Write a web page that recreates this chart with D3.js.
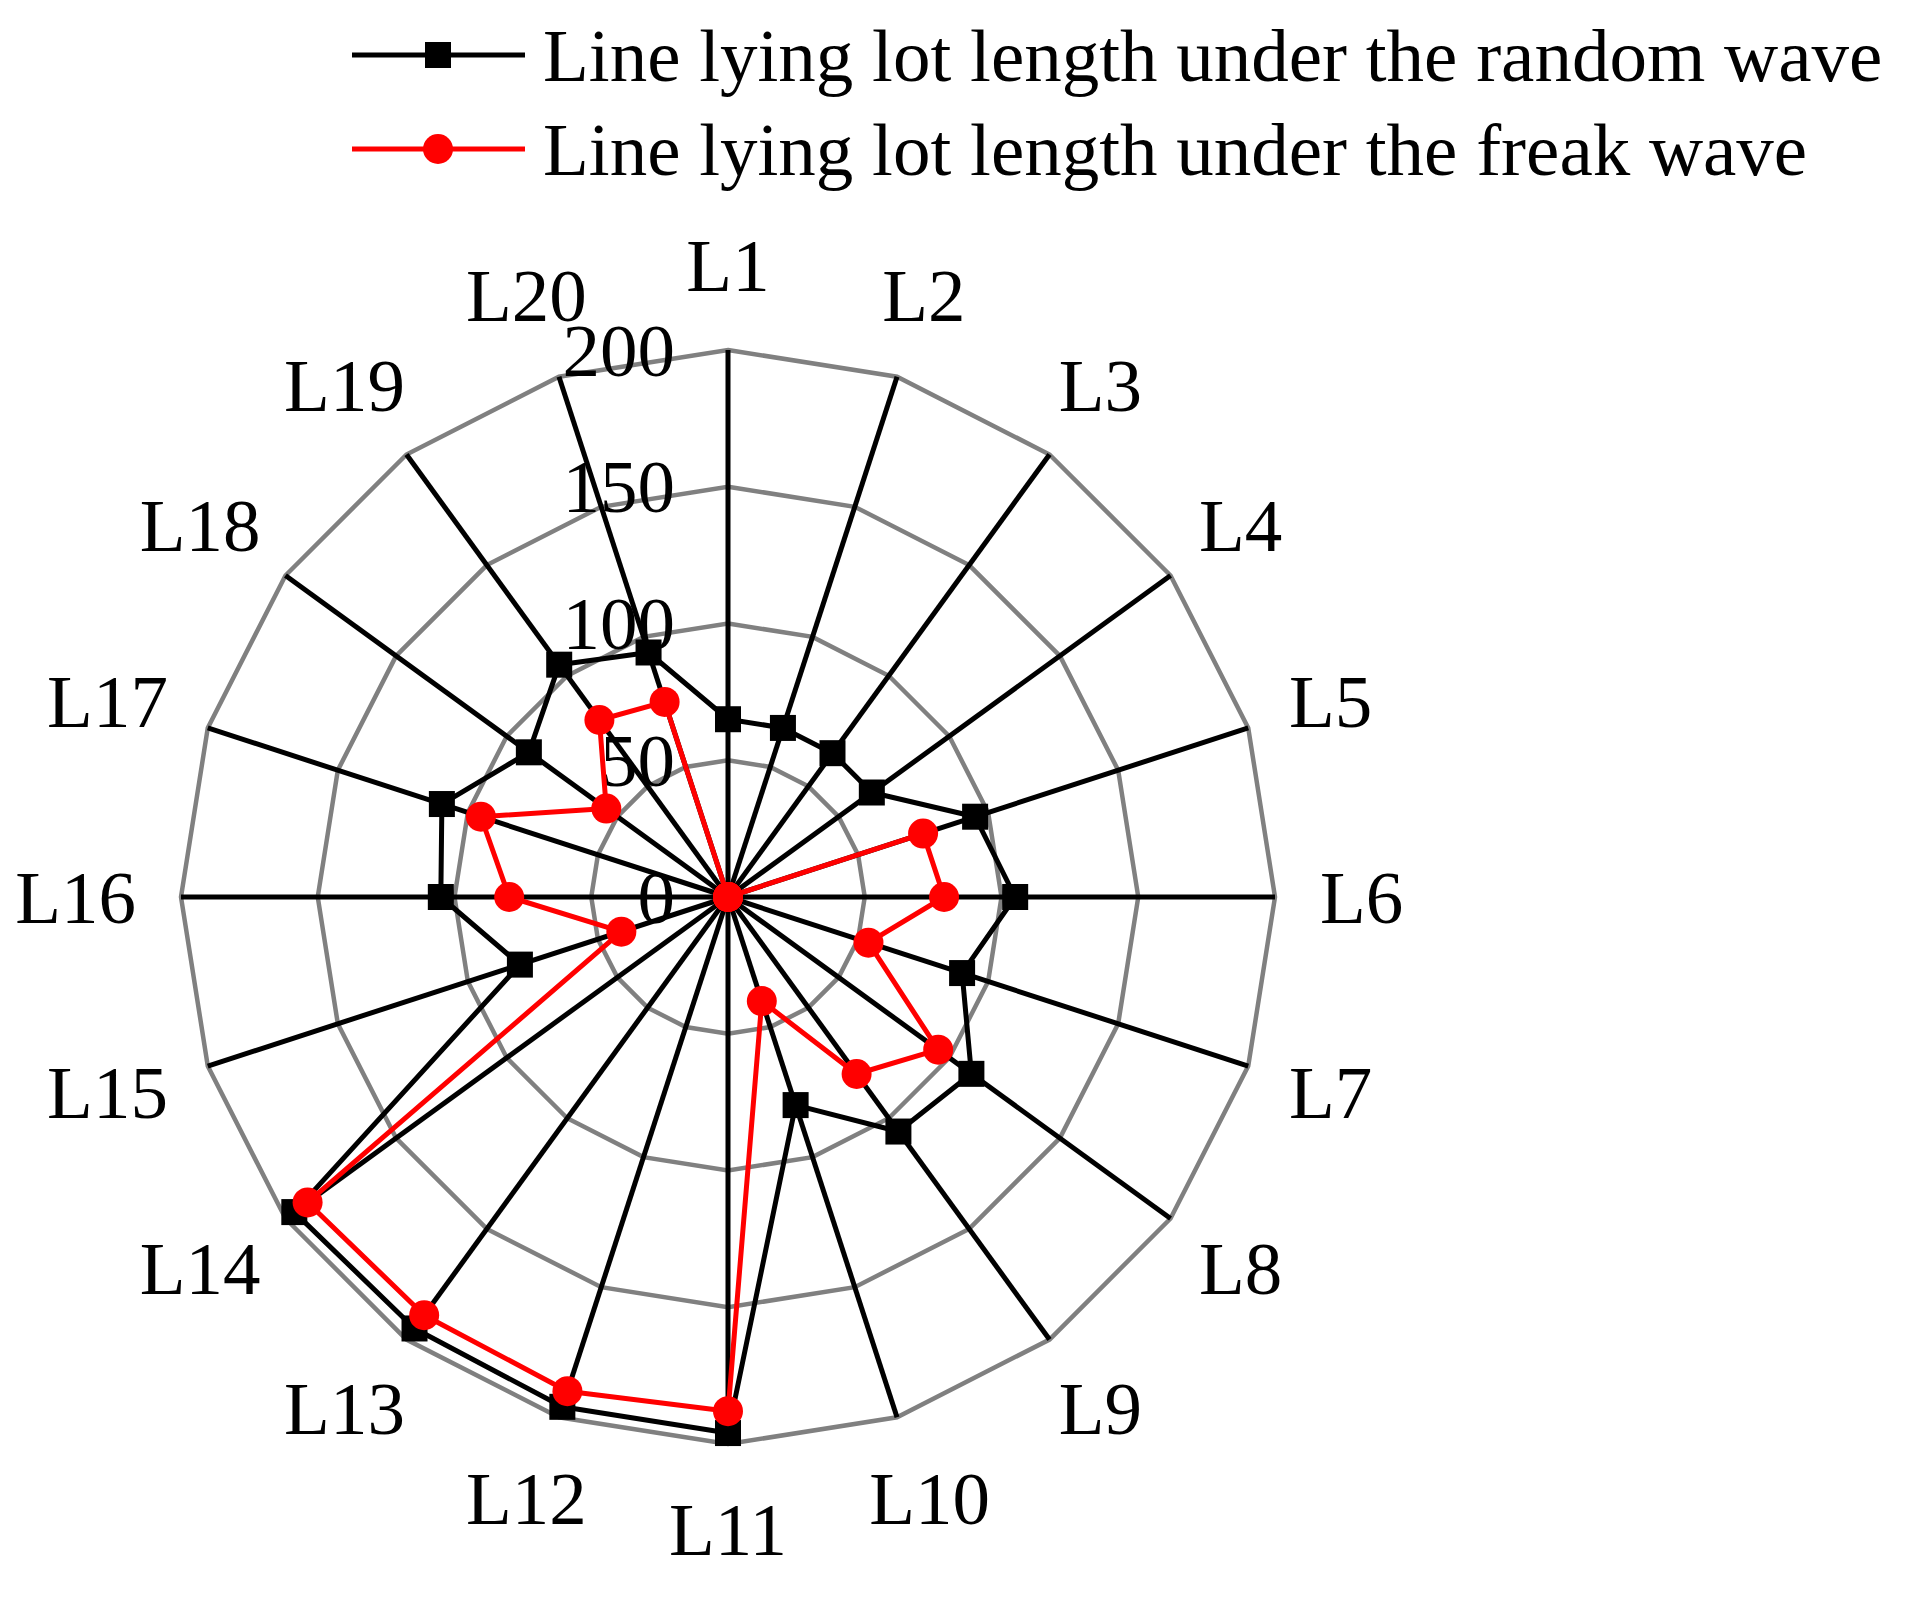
<!DOCTYPE html>
<html>
<head>
<meta charset="utf-8">
<script src="https://cdn.jsdelivr.net/npm/d3@7"></script>
<style>
  body { margin: 0; background: #fff; }
  text { font-family: "Liberation Serif", "Times New Roman", serif; fill: #000; }
</style>
</head>
<body>
<div id="chart"></div>
<script>
//data
const categories = ["L1", "L2", "L3", "L4", "L5", "L6", "L7", "L8", "L9", "L10",
  "L11", "L12", "L13", "L14", "L15", "L16", "L17", "L18", "L19", "L20"];
const randomWave = [65, 65, 65, 65, 95, 105, 90, 110, 106, 80,
  196, 196, 195, 196, 80, 105, 110, 90, 105, 94];
const freakWave = [0, 0, 0, 0, 75, 79, 54, 95, 80, 40,
  188, 190, 189, 190, 41, 80, 95, 55, 80, 75];
const ticks = [0, 50, 100, 150, 200];
const seriesNames = ["Line lying lot length under the random wave",
  "Line lying lot length under the freak wave"];

//size
const width = 1914;
const height = 1599;
const cx = 728;
const cy = 897;
const R = 547;
const fontSize = 75;

const r = d3.scaleLinear().domain([0, 200]).range([0, R]);
const angle = d3.scalePoint().domain(categories).range([0, 2 * Math.PI * 19 / 20]);

//polar -> xy
const px = (cat, v) => cx + r(v) * Math.sin(angle(cat));
const py = (cat, v) => cy - r(v) * Math.cos(angle(cat));

const svg = d3.select("#chart").append("svg")
  .attr("width", width)
  .attr("height", height);

svg.append("rect").attr("width", width).attr("height", height).attr("fill", "#fff");

//grid rings
const ring = d3.line().x((d) => d[0]).y((d) => d[1]);
svg.append("g")
  .selectAll("path")
  .data(ticks.filter((t) => t > 0))
  .join("path")
  .attr("d", (t) => ring(categories.map((c) => [px(c, t), py(c, t)])) + "Z")
  .attr("fill", "none")
  .attr("stroke", "#808080")
  .attr("stroke-width", 4.5);

//spokes
svg.append("g")
  .selectAll("line")
  .data(categories)
  .join("line")
  .attr("x1", cx).attr("y1", cy)
  .attr("x2", (c) => px(c, 200))
  .attr("y2", (c) => py(c, 200))
  .attr("stroke", "#000")
  .attr("stroke-width", 5);

//tick labels
svg.append("g")
  .selectAll("text")
  .data(ticks)
  .join("text")
  .attr("x", cx - 53)
  .attr("y", (t) => cy - r(t))
  .attr("text-anchor", "end")
  .attr("dominant-baseline", "central")
  .attr("font-size", fontSize)
  .text((t) => t);

//category labels
const gap = 45;
const halfH = 36;
svg.append("g")
  .selectAll("text")
  .data(categories)
  .join("text")
  .attr("font-size", fontSize)
  .attr("text-anchor", "middle")
  .attr("dominant-baseline", "central")
  .text((c) => c)
  .each(function (c) {
    const w = this.getComputedTextLength();
    const s = Math.sin(angle(c));
    const k = Math.cos(angle(c));
    d3.select(this)
      .attr("x", cx + (R + gap) * s + s * w / 2)
      .attr("y", cy - (R + gap + 4) * k - k * halfH);
  });

//series
const series = [
  { name: seriesNames[0], values: randomWave, color: "#000", symbol: "square" },
  { name: seriesNames[1], values: freakWave, color: "#ff0000", symbol: "circle" },
];

function drawMarker(g, symbol, color, x, y) {
  if (symbol === "square") {
    g.append("rect")
      .attr("x", x - 13).attr("y", y - 13)
      .attr("width", 26).attr("height", 26)
      .attr("fill", color);
  } else {
    g.append("circle")
      .attr("cx", x).attr("cy", y).attr("r", 15)
      .attr("fill", color);
  }
}

series.forEach((s) => {
  const g = svg.append("g");
  const pts = categories.map((c, i) => [px(c, s.values[i]), py(c, s.values[i])]);
  g.append("path")
    .attr("d", ring(pts) + "Z")
    .attr("fill", "none")
    .attr("stroke", s.color)
    .attr("stroke-width", 5)
    .attr("stroke-linejoin", "round");
  pts.forEach((p) => drawMarker(g, s.symbol, s.color, p[0], p[1]));
});

//legend
const legend = svg.append("g");
series.forEach((s, i) => {
  const y = 55 + i * 94;
  legend.append("line")
    .attr("x1", 352).attr("x2", 525)
    .attr("y1", y).attr("y2", y)
    .attr("stroke", s.color)
    .attr("stroke-width", 5);
  drawMarker(legend, s.symbol, s.color, 438, y);
  legend.append("text")
    .attr("x", 543)
    .attr("y", y + 26)
    .attr("font-size", fontSize)
    .text(s.name);
});
</script>
</body>
</html>
